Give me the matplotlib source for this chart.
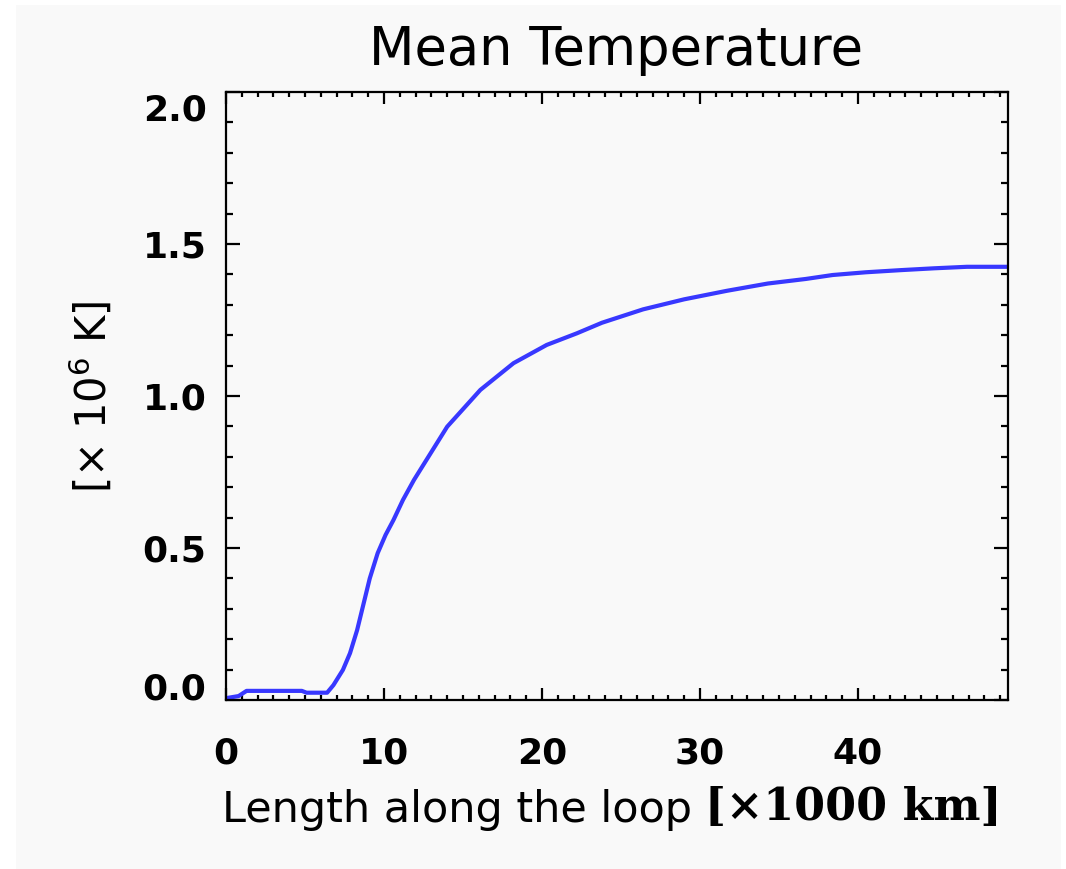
import matplotlib
matplotlib.use("Agg")
import matplotlib.pyplot as plt
from matplotlib.patches import Rectangle
from matplotlib.ticker import MultipleLocator, FormatStrFormatter
from matplotlib.transforms import ScaledTranslation

# Mean temperature profile along the loop
length_kkm = [0.0, 0.8, 1.3, 4.8, 5.1, 6.4, 6.8, 7.4, 7.85, 8.3, 8.7, 9.1,
              9.6, 10.1, 10.6, 11.2, 11.9, 14.0, 16.1, 18.2, 20.3, 22.2,
              23.8, 26.4, 29.0, 31.7, 34.3, 36.7, 38.4, 40.5, 42.7, 44.8,
              46.9, 49.5]
temp_mk = [0.006, 0.013, 0.030, 0.030, 0.024, 0.024, 0.049, 0.099, 0.154,
           0.230, 0.315, 0.400, 0.483, 0.543, 0.592, 0.658, 0.724, 0.899,
           1.020, 1.108, 1.168, 1.206, 1.241, 1.285, 1.318, 1.346, 1.370,
           1.385, 1.398, 1.407, 1.414, 1.420, 1.425, 1.425]

x_major = [0, 10, 20, 30, 40]
y_major = [0.0, 0.5, 1.0, 1.5, 2.0]

W, H = 1066, 869
fig = plt.figure(figsize=(W / 100, H / 100), dpi=100, facecolor="white")
panel = "#f9f9f9"
fig.patches.append(Rectangle((16 / W, 0), (1061 - 16) / W, (H - 5) / H,
                             transform=fig.transFigure, facecolor=panel,
                             edgecolor="none", zorder=-10))

ax = fig.add_axes([226 / W, 1 - 700 / H, (1008 - 226) / W, (700 - 92) / H])
ax.set_zorder(1)
ax.set_facecolor(panel)
ax.plot(length_kkm, temp_mk, color="#3838ff", lw=3.0, solid_joinstyle="round")

ax.set_xlim(0, 49.5)
ax.set_ylim(0, 2.0)
ax.set_xticks(x_major)
ax.set_yticks(y_major)
ax.xaxis.set_minor_locator(MultipleLocator(1))
ax.yaxis.set_minor_locator(MultipleLocator(0.1))
ax.yaxis.set_major_formatter(FormatStrFormatter("%.1f"))

for s in ax.spines.values():
    s.set_linewidth(1.6)
    s.set_color("black")
ax.tick_params(which="both", direction="in", top=True, right=True,
               width=1.6, color="black")
ax.tick_params(axis="x", which="major", length=8.5, pad=26, labelsize=26)
ax.tick_params(axis="x", which="minor", length=3.8)
ax.tick_params(axis="y", which="major", length=10, pad=14, labelsize=26)
ax.tick_params(axis="y", which="minor", length=5)
for lab in ax.get_yticklabels() + ax.get_xticklabels():
    lab.set_fontweight("bold")

# keep the end labels of the y axis inside the frame height
ylabs = ax.get_yticklabels()
ylabs[0].set_transform(ylabs[0].get_transform()
                       + ScaledTranslation(0, 14 / 100, fig.dpi_scale_trans))
ylabs[-1].set_transform(ylabs[-1].get_transform()
                        + ScaledTranslation(0, -15 / 100, fig.dpi_scale_trans))

fig.text(616 / W, 1 - 50 / H, "Mean Temperature", ha="center", va="center",
         fontsize=38, family="DejaVu Sans")
fig.text(222 / W, 1 - 810 / H, "Length along the loop", ha="left",
         va="center", fontsize=31, family="DejaVu Sans")
fig.text(705 / W, 1 - 808 / H, "[\u00d71000 km]", ha="left", va="center",
         fontsize=32, family="DejaVu Serif", fontweight="bold")
fig.text(92 / W, 1 - 397 / H, "[\u00d7 10$^{6}$ K]", ha="center", va="center",
         rotation=90, fontsize=30, family="DejaVu Sans")

fig.savefig("out.png", dpi=100, facecolor="white")
